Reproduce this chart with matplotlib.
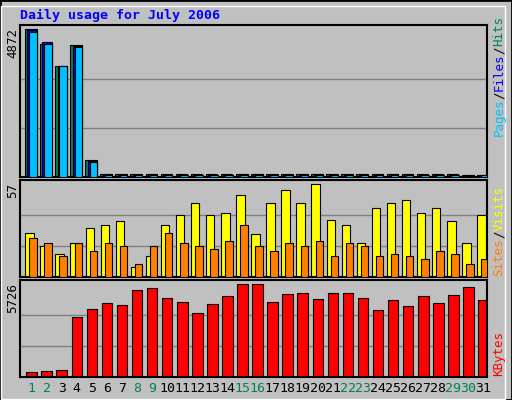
import matplotlib
matplotlib.use("Agg")
import matplotlib.pyplot as plt
from matplotlib.patches import Rectangle

days = list(range(1, 32))
hits = [4872, 4400, 3679, 4342, 560, 110, 90, 90, 110, 90, 90, 110, 90, 90, 110, 110, 90, 110, 110, 100, 90, 90, 90, 90, 110, 110, 90, 90, 90, 60, 80]
files = [4850, 4441, 3679, 4320, 540, 90, 80, 70, 90, 80, 80, 80, 70, 80, 90, 90, 80, 80, 90, 90, 80, 80, 80, 80, 90, 90, 80, 80, 80, 60, 70]
pages = [4800, 4400, 3679, 4300, 500, 80, 80, 50, 80, 80, 80, 50, 50, 80, 80, 80, 60, 80, 80, 70, 70, 80, 60, 60, 80, 80, 60, 60, 80, 40, 60]
visits = [27, 19, 14, 21, 30, 32, 34, 6, 13, 32, 38, 45, 38, 39, 50, 26, 45, 53, 45, 57, 35, 32, 21, 42, 45, 47, 39, 42, 34, 21, 38]
sites = [24, 21, 13, 21, 16, 21, 19, 8, 19, 27, 21, 19, 17, 22, 32, 19, 16, 21, 19, 22, 13, 21, 19, 13, 14, 13, 11, 16, 14, 8, 11]
kbytes = [334, 397, 460, 3678, 4159, 4535, 4410, 5350, 5476, 4849, 4598, 3908, 4473, 4974, 5726, 5726, 4598, 5100, 5162, 4786, 5162, 5162, 4849, 4096, 4723, 4347, 4974, 4535, 5037, 5538, 4723]
weekend = [1, 2, 8, 9, 15, 16, 22, 23, 29, 30]
title = "Daily usage for July 2006"

W, H = 512, 400
fig = plt.figure(figsize=(5.12, 4.0), dpi=100)
fig.patch.set_facecolor("#C0C0C0")
fig.add_artist(Rectangle((0, 0), 1, 1, transform=fig.transFigure, fill=False, edgecolor="black", lw=2))
fig.add_artist(Rectangle((1/W, 1/H), 1-8/W, 1-7/H, transform=fig.transFigure, fill=False, edgecolor="white", lw=1))
mono = "DejaVu Sans Mono"
fig.text(20/W, 1-15/H, title, color="#0000FF", fontsize=9.5, fontweight="bold", family=mono, va="center")

def mkax(y0, y1):
    ax = fig.add_axes([20/W, 1-y1/H, 467/W, (y1-y0)/H])
    ax.set_facecolor("#C0C0C0")
    ax.set_xlim(0.5, 31.5)
    ax.set_xticks([]); ax.set_yticks([])
    for s in ax.spines.values():
        s.set_color("black"); s.set_linewidth(1.5)
    return ax

def grid(ax, m):
    for k in (1, 2):
        ax.axhline(m*k/3, color="#808080", lw=1, zorder=0)

ax1 = mkax(25, 177)
m = max(hits)
ax1.set_ylim(0, m*1.03)
grid(ax1, m)
ax1.bar([d+0.22 for d in days], hits, width=0.77, color="#00805F", edgecolor="black", lw=0.8, zorder=2)
ax1.bar([d+0.3 for d in days], files, width=0.62, color="#0000FF", edgecolor="black", lw=0.8, zorder=3)
ax1.bar([d+0.37 for d in days], pages, width=0.5, color="#00C0FF", edgecolor="black", lw=0.8, zorder=4)

ax2 = mkax(180, 277)
m2 = max(visits)
ax2.set_ylim(0, m2*1.04)
grid(ax2, m2)
ax2.bar([d+0.13 for d in days], visits, width=0.56, color="#FFFF00", edgecolor="black", lw=0.8, zorder=2)
ax2.bar([d+0.37 for d in days], sites, width=0.5, color="#FF8000", edgecolor="black", lw=0.8, zorder=3)

ax3 = mkax(280, 377)
m3 = max(kbytes)
ax3.set_ylim(0, m3*1.04)
grid(ax3, m3)
ax3.bar([d+0.27 for d in days], kbytes, width=0.7, color="#FF0000", edgecolor="black", lw=0.8, zorder=2)

for y, v in ((28, m), (183, m2), (283, m3)):
    fig.text(13/W, 1-y/H, str(v), rotation=90, fontsize=9, family=mono, va="top", ha="center")

for d in days:
    x = 20/W + (d-0.5+0.27)/31*467/W
    fig.text(x, 1-388/H, str(d), fontsize=9.5, family=mono, ha="center", va="center",
             color="#00805F" if d in weekend else "black")

r = fig.canvas.get_renderer()
def vlabel(parts, ybot):
    y = 1-ybot/H
    for txt, col in parts:
        t = fig.text(499/W, y, txt, rotation=90, fontsize=9, family=mono, color=col, va="bottom", ha="center")
        ext = t.get_window_extent(renderer=r)
        y += ext.height/H

vlabel([("Pages", "#00C0FF"), ("/", "black"), ("Files", "#0000FF"), ("/", "black"), ("Hits", "#00805F")], 136)
vlabel([("Sites", "#FF8000"), ("/", "black"), ("Visits", "#FFFF00")], 276)
vlabel([("KBytes", "#FF0000")], 376)

fig.savefig("out.png", dpi=100, facecolor=fig.get_facecolor())
